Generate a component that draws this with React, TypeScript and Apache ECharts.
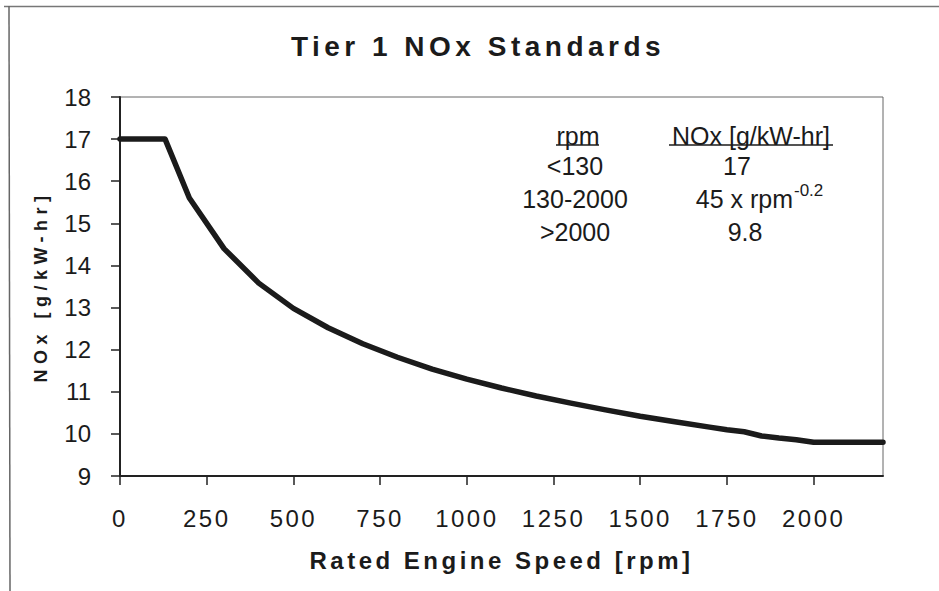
import React, { useEffect, useRef } from "react";
import * as echarts from "echarts";

// Rated engine speed [rpm] and NOx limit [g/kW-hr]
const rpm = [0, 130, 200, 300, 400, 500, 600, 700, 800, 900, 1000, 1100, 1200, 1300, 1400, 1500, 1600, 1700, 1750, 1800, 1850, 1900, 1950, 2000, 2200];
const nox = [17, 17, 15.6, 14.4, 13.58, 12.98, 12.52, 12.14, 11.82, 11.54, 11.3, 11.09, 10.9, 10.73, 10.57, 10.42, 10.29, 10.16, 10.1, 10.05, 9.95, 9.9, 9.86, 9.8, 9.8];

const xTicks = [0, 250, 500, 750, 1000, 1250, 1500, 1750, 2000];

const TITLE = "Tier 1 NOx Standards";
const X_NAME = "Rated Engine Speed [rpm]";
const Y_NAME = "NOx [g/kW-hr]";

const tableHeaders = ["rpm", "NOx [g/kW-hr]"];
const tableRpm = ["<130", "130-2000", ">2000"];
const tableNox = ["17", "45 x rpm", "9.8"];
const exponent = "-0.2";

const FONT = "'Liberation Sans', Arial, sans-serif";
const INK = "#1b1b1b";

export default function App() {
  const ref = useRef<HTMLDivElement>(null);

  useEffect(() => {
    if (!ref.current) return;
    const chart = echarts.init(ref.current, undefined, { renderer: "svg" });

    const rowY = [166, 199, 232];
    const graphics: any[] = [
      { type: "line", silent: true, shape: { x1: 4, y1: 6.5, x2: 939, y2: 6.5 }, style: { stroke: "#777", lineWidth: 1.5 } },
      { type: "line", silent: true, shape: { x1: 9, y1: 6, x2: 10, y2: 591 }, style: { stroke: "#666", lineWidth: 1.5 } },
      {
        type: "text",
        x: 578,
        y: 136,
        style: { text: tableHeaders[0], font: `25px ${FONT}`, fill: INK, textAlign: "center", textVerticalAlign: "middle" },
      },
      {
        type: "text",
        x: 751,
        y: 136,
        style: { text: tableHeaders[1], font: `25px ${FONT}`, fill: INK, textAlign: "center", textVerticalAlign: "middle" },
      },
      { type: "line", shape: { x1: 556, y1: 145, x2: 599, y2: 145 }, style: { stroke: INK, lineWidth: 1.5 } },
      { type: "line", shape: { x1: 669, y1: 145, x2: 833, y2: 145 }, style: { stroke: INK, lineWidth: 1.5 } },
    ];
    tableRpm.forEach((t, i) => {
      graphics.push({
        type: "text",
        x: 575,
        y: rowY[i],
        style: { text: t, font: `25px ${FONT}`, fill: INK, textAlign: "center", textVerticalAlign: "middle" },
      });
    });
    const noxX = [737, 793, 745];
    tableNox.forEach((t, i) => {
      graphics.push({
        type: "text",
        x: noxX[i],
        y: rowY[i],
        style: {
          text: t,
          font: `25px ${FONT}`,
          fill: INK,
          textAlign: i === 1 ? "right" : "center",
          textVerticalAlign: "middle",
        },
      });
    });
    graphics.push({
      type: "text",
      x: 794,
      y: 190,
      style: { text: exponent, font: `17px ${FONT}`, fill: INK, textAlign: "left", textVerticalAlign: "middle" },
    });

    chart.setOption({
      animation: false,
      backgroundColor: "#fff",
      title: {
        text: TITLE,
        left: 478,
        top: 32,
        textAlign: "center",
        padding: 0,
        textStyle: { fontFamily: FONT, fontSize: 28, fontWeight: "bold", color: INK },
      },
      grid: {
        left: 120,
        top: 97,
        right: 56,
        bottom: 115,
        show: true,
        borderColor: "#666",
        borderWidth: 1,
        backgroundColor: "transparent",
      },
      xAxis: {
        type: "value",
        min: 0,
        max: 2200,
        interval: 250,
        name: X_NAME,
        nameLocation: "middle",
        nameGap: 72,
        nameTextStyle: { fontFamily: FONT, fontSize: 24, fontWeight: "bold", color: INK },
        axisLine: { show: true, lineStyle: { color: "#222", width: 2 } },
        axisTick: { show: true, length: 9, customValues: xTicks, lineStyle: { color: "#222", width: 1.5 } },
        axisLabel: {
          customValues: xTicks,
          formatter: (v: number) => String(v),
          margin: 30,
          fontFamily: FONT,
          fontSize: 24,
          color: INK,
        },
        splitLine: { show: false },
      },
      yAxis: {
        type: "value",
        min: 9,
        max: 18,
        interval: 1,
        name: Y_NAME,
        nameLocation: "middle",
        nameGap: 70,
        nameTextStyle: { fontFamily: FONT, fontSize: 18, fontWeight: "bold", color: INK },
        axisLine: { show: true, lineStyle: { color: "#222", width: 2 } },
        axisTick: { show: true, length: 9, lineStyle: { color: "#222", width: 1.5 } },
        axisLabel: { margin: 29, fontFamily: FONT, fontSize: 24, color: INK },
        splitLine: { show: false },
      },
      series: [
        {
          type: "line",
          data: rpm.map((r, i) => [r, nox[i]]),
          showSymbol: false,
          lineStyle: { color: INK, width: 5.5, cap: "round", join: "round" },
        },
      ],
      graphic: graphics,
    });

    // letter spacing for the bold titles and the x tick labels (not the table)
    const boldSpacing: Record<string, string> = {
      [TITLE]: "4.5px",
      [X_NAME]: "3.5px",
      [Y_NAME]: "5.5px",
    };
    const tickSpacing: Record<string, string> = {};
    xTicks.forEach((v) => (tickSpacing[String(v)] = "2.5px"));
    const apply = () => {
      const el = ref.current;
      if (!el) return;
      el.querySelectorAll("text").forEach((t) => {
        const s = (t.textContent || "").trim();
        const w = parseInt(window.getComputedStyle(t).fontWeight || "400", 10);
        const bold = w >= 600 || /bold/.test(t.getAttribute("style") || "");
        if (bold && boldSpacing[s]) t.setAttribute("letter-spacing", boldSpacing[s]);
        else if (!bold && tickSpacing[s]) t.setAttribute("letter-spacing", tickSpacing[s]);
      });
    };
    apply();
    chart.on("finished", apply);
    const timer = setTimeout(apply, 50);

    return () => {
      clearTimeout(timer);
      chart.dispose();
    };
  }, []);

  return (
    <div
      ref={ref}
      style={{ position: "fixed", left: 0, top: 0, width: 939, height: 591, background: "#fff" }}
    />
  );
}
